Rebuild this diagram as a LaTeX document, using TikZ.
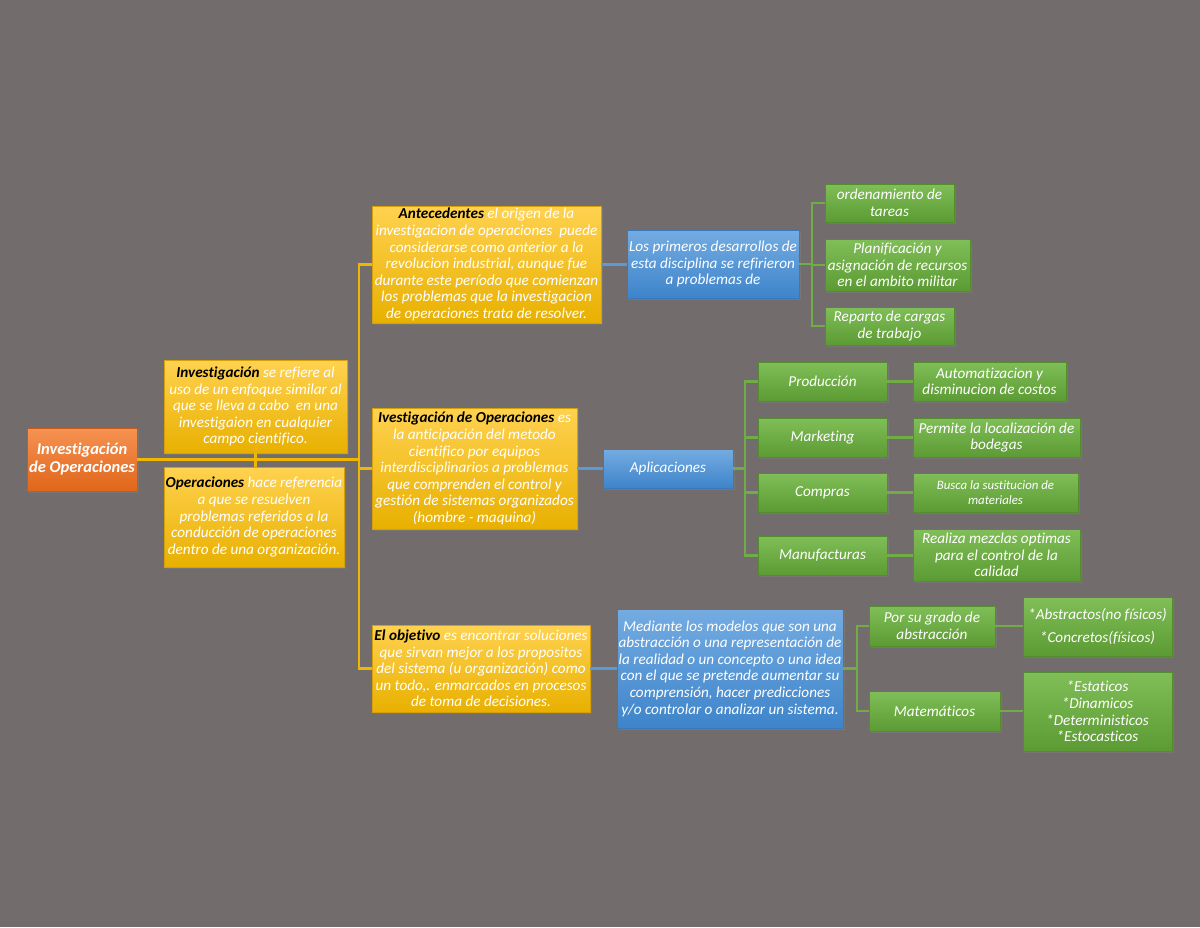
\documentclass[tikz,border=0pt]{standalone}
\usepackage{fontspec}
\setmainfont{Carlito}[Ligatures=NoCommon]
\usetikzlibrary{shadows}
\definecolor{bg}{RGB}{114,109,108}
\definecolor{ylt}{RGB}{255,210,80}
\definecolor{ydk}{RGB}{232,176,0}
\definecolor{ybd}{RGB}{214,160,10}
\definecolor{glt}{RGB}{128,190,88}
\definecolor{gdk}{RGB}{92,154,52}
\definecolor{gbd}{RGB}{84,140,48}
\definecolor{blt}{RGB}{116,172,226}
\definecolor{bdk}{RGB}{62,132,202}
\definecolor{bbd}{RGB}{60,120,185}
\definecolor{olt}{RGB}{246,146,82}
\definecolor{odk}{RGB}{224,102,26}
\definecolor{obd}{RGB}{200,90,25}
\definecolor{ylin}{RGB}{240,182,0}
\definecolor{blin}{RGB}{91,155,213}
\definecolor{glin}{RGB}{112,173,71}
\tikzset{
  box/.style={rectangle, line width=0.8pt, inner sep=1pt, align=center,
    text=white, font=\fontsize{15.2}{16.6}\selectfont\itshape,
    drop shadow={opacity=0.45, shadow xshift=1.5pt, shadow yshift=-2pt}},
  ybox/.style={box, draw=ybd, top color=ylt, bottom color=ydk},
  gbox/.style={box, draw=gbd, top color=glt, bottom color=gdk},
  bbox/.style={box, draw=bbd, top color=blt, bottom color=bdk},
  obox/.style={box, draw=obd, top color=olt, bottom color=odk},
  yl/.style={draw=ylin, line width=2.2pt},
  bl/.style={draw=blin, line width=2.2pt},
  gl/.style={draw=glin, line width=2.2pt},
}
\newcommand{\kw}[1]{\textcolor{black}{\textbf{#1}}}
\begin{document}
\begin{tikzpicture}[x=1pt,y=1pt]
\fill[bg] (0,0) rectangle (1200,-927);
\useasboundingbox (0,0) rectangle (1200,-927);

% bus coordinates
\coordinate (b1) at (359,0);
\coordinate (g1) at (812,0);
\coordinate (g2) at (745,0);
\coordinate (g3) at (857,0);

% nodes
\node[obox, minimum width=110pt, minimum height=63pt, font=\fontsize{16.5}{18}\selectfont\bfseries\itshape] (io) at (82,-459.5) {Investigación\\de Operaciones};
\node[ybox, minimum width=183pt, minimum height=93pt] (inv) at (255.5,-406.5)
 {\kw{Investigación} se refiere al\\uso de un enfoque similar al\\que se lleva a cabo \ en una\\investigaion en cualquier\\campo cientifico.};
\node[ybox, minimum width=180pt, minimum height=100pt] (ope) at (254,-517)
 {\kw{Operaciones} hace referencia\\a que se resuelven\\problemas referidos a la\\conducción de operaciones\\dentro de una organización.};
\node[ybox, minimum width=229pt, minimum height=117pt] (ant) at (486.5,-264.5)
 {\kw{Antecedentes} el origen de la\\investigacion de operaciones \ puede\\considerarse como anterior a la\\revolucion industrial, aunque fue\\durante este período que comienzan\\los problemas que la investigacion\\de operaciones trata de resolver.};
\node[ybox, minimum width=205pt, minimum height=121pt] (ivo) at (474.5,-468.5)
 {\kw{Ivestigación de Operaciones} es\\la anticipación del metodo\\cientifico por equipos\\interdisciplinarios a problemas\\que comprenden el control y\\gestión de sistemas organizados\\(hombre - maquina)};
\node[ybox, minimum width=218pt, minimum height=87pt] (obj) at (481,-668.5)
 {\kw{El objetivo} es encontrar soluciones\\que sirvan mejor a los propositos\\del sistema (u organización) como\\un todo,. enmarcados en procesos\\de toma de decisiones.};

\node[bbox, minimum width=172pt, minimum height=68pt] (lpd) at (713,-264)
 {Los primeros desarrollos de\\esta disciplina se refirieron\\a problemas de};
\node[bbox, minimum width=130pt, minimum height=39pt] (apl) at (668,-468.5) {Aplicaciones};
\node[bbox, minimum width=226pt, minimum height=119pt] (med) at (730,-668.5)
 {Mediante los modelos que son una\\abstracción o una representación de\\la realidad o un concepto o una idea\\con el que se pretende aumentar su\\comprensión, hacer predicciones\\y/o controlar o analizar un sistema.};

\node[gbox, minimum width=129pt, minimum height=38pt] (ord) at (889.5,-203) {ordenamiento de\\tareas};
\node[gbox, minimum width=145pt, minimum height=52pt] (pla) at (897.5,-265) {Planificación y\\asignación de recursos\\en el ambito militar};
\node[gbox, minimum width=129pt, minimum height=38pt] (rep) at (889.5,-326) {Reparto de cargas\\de trabajo};

\node[gbox, minimum width=129pt, minimum height=39pt] (pro) at (822.5,-381.5) {Producción};
\node[gbox, minimum width=129pt, minimum height=39pt] (mar) at (822.5,-437.5) {Marketing};
\node[gbox, minimum width=129pt, minimum height=39pt] (com) at (822.5,-492.5) {Compras};
\node[gbox, minimum width=129pt, minimum height=39pt] (man) at (822.5,-555.5) {Manufacturas};

\node[gbox, minimum width=153pt, minimum height=39pt] (aut) at (989.5,-381.5) {Automatizacion y\\disminucion de costos};
\node[gbox, minimum width=167pt, minimum height=39pt] (per) at (996.5,-437.5) {Permite la localización de\\bodegas};
\node[gbox, minimum width=165pt, minimum height=39pt, font=\fontsize{12.8}{15}\selectfont\itshape] (bus) at (995.5,-492.5) {Busca la sustitucion de\\materiales};
\node[gbox, minimum width=167pt, minimum height=52pt] (rea) at (996.5,-555) {Realiza mezclas optimas\\para el control de la\\calidad};

\node[gbox, minimum width=126pt, minimum height=40pt] (pgr) at (932,-626) {Por su grado de\\abstracción};
\node[gbox, minimum width=131pt, minimum height=40pt] (mat) at (934.5,-711) {Matemáticos};
\node[gbox, minimum width=149pt, minimum height=59pt] (abs) at (1097.5,-626.5) {*Abstractos(no físicos)\\[6pt]*Concretos(físicos)};
\node[gbox, minimum width=149pt, minimum height=79pt] (est) at (1097.5,-711.5) {*Estaticos\\*Dinamicos\\*Deterministicos\\*Estocasticos};

% yellow connectors
\path[yl] (io.east) -- (io.east -| b1);
\path[yl] (ant.west) -- (ant.west -| b1) -- (obj.west -| b1) -- (obj.west);
\path[yl] (ivo.west) -- (ivo.west -| b1);
\path[yl] (inv.south) -- (inv.south |- ope.north);
% blue connectors
\path[bl] (ant.east) -- (ant.east -| lpd.west);
\path[bl] (ivo.east) -- (ivo.east -| apl.west);
\path[bl] (obj.east) -- (obj.east -| med.west);
% green connectors
\path[gl] (lpd.east) -- (lpd.east -| g1);
\path[gl] (ord.west) -- (ord.west -| g1) -- (rep.west -| g1) -- (rep.west);
\path[gl] (pla.west) -- (pla.west -| g1);
\path[gl] (apl.east) -- (apl.east -| g2);
\path[gl] (pro.west) -- (pro.west -| g2) -- (man.west -| g2) -- (man.west);
\path[gl] (mar.west) -- (mar.west -| g2);
\path[gl] (com.west) -- (com.west -| g2);
\path[gl] (pro.east) -- (aut.west);
\path[gl] (mar.east) -- (per.west);
\path[gl] (com.east) -- (bus.west);
\path[gl] (man.east) -- (man.east -| rea.west);
\path[gl] (med.east) -- (med.east -| g3);
\path[gl] (pgr.west) -- (pgr.west -| g3) -- (mat.west -| g3) -- (mat.west);
\path[gl] (pgr.east) -- (pgr.east -| abs.west);
\path[gl] (mat.east) -- (mat.east -| est.west);
\end{tikzpicture}
\end{document}
